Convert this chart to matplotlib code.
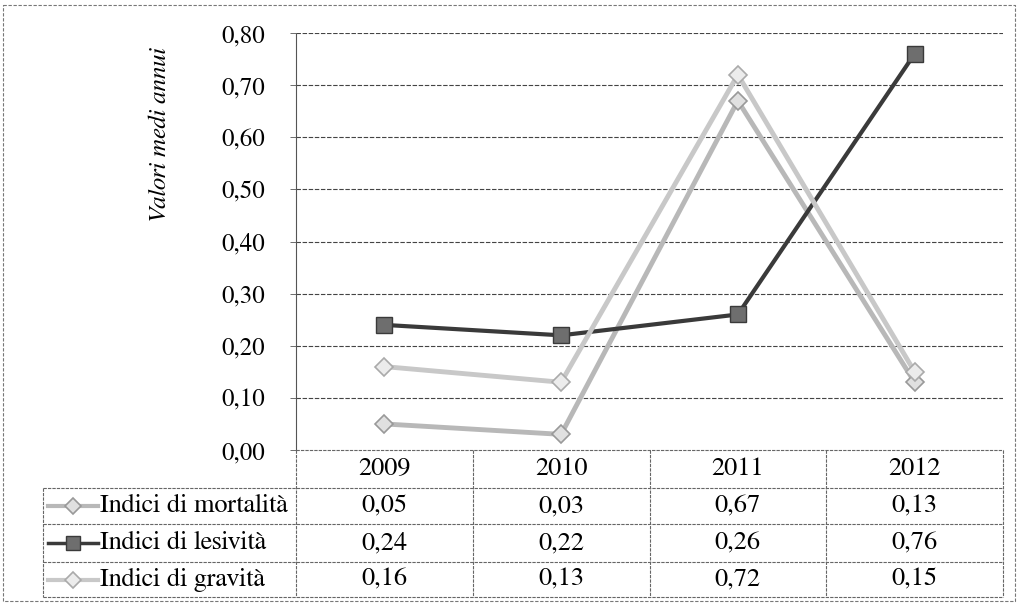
import matplotlib.pyplot as plt
from matplotlib.lines import Line2D

years = ["2009", "2010", "2011", "2012"]
series = ["Indici di mortalità", "Indici di lesività", "Indici di gravità"]
mortalita = [0.05, 0.03, 0.67, 0.13]
lesivita = [0.24, 0.22, 0.26, 0.76]
gravita = [0.16, 0.13, 0.72, 0.15]
yticks = [0.0, 0.1, 0.2, 0.3, 0.4, 0.5, 0.6, 0.7, 0.8]

W, H = 1019, 607
FONT = ["FreeSerif", "Liberation Serif", "DejaVu Serif"]
plt.rcParams["font.family"] = FONT


def fx(x):
    return x / W


def fy(y):
    return 1 - y / H


fig = plt.figure(figsize=(W / 100, H / 100), dpi=100)
fig.set_facecolor("white")

# plot area in pixels
left, right, top, bottom = 296, 1003, 33, 450
ax = fig.add_axes([fx(left), fy(bottom), fx(right) - fx(left), fy(top) - fy(bottom)])
ax.set_xlim(0, 4)
ax.set_ylim(0, 0.8)
ax.set_facecolor("none")
for s in ["top", "right", "bottom"]:
    ax.spines[s].set_visible(False)
ax.spines["left"].set_color("#555555")
ax.spines["left"].set_linestyle((0, (3, 1)))
ax.spines["left"].set_linewidth(0.8)
ax.set_xticks([])
ax.set_yticks(yticks)
ax.set_yticklabels([f"{v:.2f}".replace(".", ",") for v in yticks],
                   fontsize=18, family=FONT)
ax.tick_params(axis="y", length=4, width=0.6, color="#555555", pad=18)
for v in yticks[1:]:
    ax.axhline(v, color="#444444", lw=0.8, ls=(0, (4, 1.5)), zorder=0)

xs = [0.5, 1.5, 2.5, 3.5]
styles = [
    dict(color="#b8b8b8", lw=3.5, marker="D", ms=9, mfc="#e0e0e0", mec="#999999", mew=1.2),
    dict(color="#3a3a3a", lw=3, marker="s", ms=11, mfc="#6e6e6e", mec="#3a3a3a", mew=1),
    dict(color="#c8c8c8", lw=3.5, marker="D", ms=9, mfc="#ececec", mec="#aaaaaa", mew=1.2),
]
for vals, st in zip([mortalita, lesivita, gravita], styles):
    ax.plot(xs, vals, zorder=3, clip_on=False, **st)

fig.text(fx(160), fy(135), "Valori medi annui", rotation=90, style="italic",
         fontsize=18, ha="center", va="center", family=FONT)

# data table
tcol = dict(color="#666666", lw=0.8, ls=(0, (3, 1)))
rows = [450, 488, 524, 562, 597]
cols = [left + i * (right - left) / 4 for i in range(5)]
tleft = 43


def hline(x0, x1, y):
    fig.add_artist(Line2D([fx(x0), fx(x1)], [fy(y), fy(y)], **tcol))


def vline(x, y0, y1):
    fig.add_artist(Line2D([fx(x), fx(x)], [fy(y0), fy(y1)], **tcol))


hline(left, right, rows[0])
for y in rows[1:]:
    hline(tleft, right, y)
for x in cols:
    vline(x, rows[0], rows[-1])
vline(tleft, rows[1], rows[-1])

for i, yr in enumerate(years):
    cx = (cols[i] + cols[i + 1]) / 2
    fig.text(fx(cx), fy((rows[0] + rows[1]) / 2), yr, fontsize=19,
             ha="center", va="center", family=FONT)

for r, (name, vals, st) in enumerate(zip(series, [mortalita, lesivita, gravita], styles)):
    cy = (rows[r + 1] + rows[r + 2]) / 2
    fig.add_artist(Line2D([fx(48), fx(98)], [fy(cy), fy(cy)], color=st["color"], lw=st["lw"] - 0.5))
    fig.add_artist(Line2D([fx(73)], [fy(cy)], marker=st["marker"], ms=st["ms"] - 1,
                          mfc=st["mfc"], mec=st["mec"], mew=st["mew"], lw=0))
    fig.text(fx(100), fy(cy), name, fontsize=19, ha="left", va="center", family=FONT)
    for i, v in enumerate(vals):
        cx = (cols[i] + cols[i + 1]) / 2
        fig.text(fx(cx), fy(cy), f"{v:.2f}".replace(".", ","), fontsize=19,
                 ha="center", va="center", family=FONT)

# outer chart border
border = dict(color="#777777", lw=0.8, ls=(0, (3, 1.5)))
fig.add_artist(Line2D([fx(3), fx(1015), fx(1015), fx(3), fx(3)],
                      [fy(5), fy(5), fy(601), fy(601), fy(5)], **border))

fig.savefig("out.png", dpi=100)
